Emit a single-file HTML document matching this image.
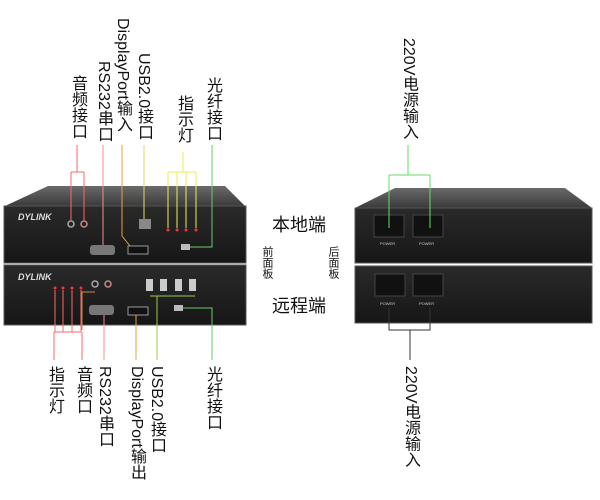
<!DOCTYPE html>
<html><head><meta charset="utf-8"><style>
body{margin:0;width:600px;height:500px;background:#fff;position:relative;overflow:hidden;font-family:"Liberation Sans","Noto Sans CJK SC",sans-serif}
.v{position:absolute;writing-mode:vertical-rl;font-size:16px;line-height:16px;color:#111;white-space:nowrap;font-family:"Liberation Sans","Noto Sans CJK SC",sans-serif}
.t{position:absolute;font-size:18px;color:#111;font-family:"Noto Sans CJK SC",sans-serif}
.s{position:absolute;writing-mode:vertical-rl;font-size:11px;line-height:11px;color:#111;font-family:"Noto Sans CJK SC",sans-serif}
</style></head><body>
<svg width="600" height="500" style="position:absolute;left:0;top:0">
<defs>
<linearGradient id="lid" x1="0" y1="0" x2="0" y2="1"><stop offset="0" stop-color="#6a6a6a"/><stop offset="1" stop-color="#3a3a3a"/></linearGradient>
<linearGradient id="fp" x1="0" y1="0" x2="0" y2="1"><stop offset="0" stop-color="#2a2a2a"/><stop offset="1" stop-color="#161616"/></linearGradient>
</defs>
<!-- left device -->
<polygon points="48,186 225,186 245,206 5,206" fill="url(#lid)"/>
<rect x="4" y="206" width="242" height="57" fill="url(#fp)" stroke="#555" stroke-width="1"/>
<rect x="4" y="265" width="242" height="60" fill="url(#fp)" stroke="#555" stroke-width="1"/>
<text x="18" y="220" fill="#ddd" font-size="9" font-weight="bold" font-style="italic" font-family="Liberation Sans">DYLINK</text>
<text x="18" y="280" fill="#ddd" font-size="9" font-weight="bold" font-style="italic" font-family="Liberation Sans">DYLINK</text>
<circle cx="71" cy="224" r="3" fill="none" stroke="#aaa" stroke-width="1.5"/>
<circle cx="84" cy="224" r="3" fill="none" stroke="#c88" stroke-width="1.5"/>
<rect x="90" y="245" width="25" height="10" rx="3" fill="#777"/>
<rect x="128" y="246" width="20" height="8" fill="#111" stroke="#999"/>
<rect x="139" y="219" width="12" height="10" fill="#888"/>
<rect x="181" y="244" width="9" height="6" fill="#bbb"/>
<circle cx="168" cy="230" r="1.5" fill="#f33"/><circle cx="177" cy="230" r="1.5" fill="#f33"/><circle cx="186" cy="230" r="1.5" fill="#f33"/><circle cx="196" cy="230" r="1.5" fill="#f33"/>
<circle cx="55" cy="288" r="1.5" fill="#f33"/><circle cx="63" cy="288" r="1.5" fill="#f33"/><circle cx="72" cy="288" r="1.5" fill="#f33"/><circle cx="81" cy="288" r="1.5" fill="#f33"/>
<circle cx="95" cy="284" r="3" fill="none" stroke="#aaa" stroke-width="1.5"/>
<circle cx="108" cy="284" r="3" fill="none" stroke="#c88" stroke-width="1.5"/>
<rect x="89" y="305" width="25" height="10" rx="3" fill="#777"/>
<rect x="128" y="307" width="20" height="8" fill="#111" stroke="#999"/>
<rect x="146" y="279" width="7" height="12" fill="#ccc"/><rect x="160" y="279" width="7" height="12" fill="#ccc"/><rect x="175" y="279" width="7" height="12" fill="#ccc"/><rect x="189" y="279" width="7" height="12" fill="#ccc"/>
<rect x="174" y="305" width="9" height="6" fill="#bbb"/>
<!-- right device -->
<polygon points="395,188 565,188 592,208 355,208" fill="url(#lid)"/>
<rect x="355" y="208" width="237" height="55" fill="url(#fp)" stroke="#555"/>
<rect x="355" y="266" width="237" height="57" fill="url(#fp)" stroke="#555"/>
<rect x="374" y="215" width="30" height="22" fill="#111" stroke="#444"/>
<rect x="413" y="215" width="30" height="22" fill="#111" stroke="#444"/>
<rect x="375" y="274" width="30" height="22" fill="#111" stroke="#444"/>
<rect x="413" y="274" width="30" height="22" fill="#111" stroke="#444"/>
<g fill="#ccc" font-size="4" font-family="Liberation Sans"><text x="380" y="245">POWER</text><text x="419" y="245">POWER</text><text x="380" y="305">POWER</text><text x="419" y="305">POWER</text></g>
<!-- connectors -->
<g fill="none" stroke-width="1">
<path d="M77,145V172M71,172H84M71,172V220M84,172V220" stroke="#f66"/>
<path d="M103,145V245" stroke="#f88"/>
<path d="M122,145V236L130,246" stroke="#e9a040"/>
<path d="M144,145V219" stroke="#dd6"/>
<path d="M183,152V172M168,172H196M168,172V228M177,172V228M186,172V228M196,172V228" stroke="#ee5"/>
<path d="M212,145V247H190" stroke="#6c6"/>
<path d="M408,145V175M389,175H430M389,175V228M430,175V228" stroke="#6d6"/>
<path d="M54,360V332M82,360V332M54,332H81M55,290V332M63,290V332M72,290V332M81,290V332" stroke="#f66"/>
<path d="M82,330V292H95" stroke="#c84"/>
<path d="M104,360V315" stroke="#f88"/>
<path d="M136,360V315" stroke="#e9a040"/>
<path d="M157,360V296M150,296H195" stroke="#9c4"/>
<path d="M212,360V308H183" stroke="#6c6"/>
<path d="M389,308V330H410V360M430,308V330H410" stroke="#333"/>
</g>
</svg>
<div class="v" style="left:69px;top:75px">音频接口</div>
<div class="v" style="left:95px;top:61px">RS232串口</div>
<div class="v" style="left:114px;top:18px">DisplayPort输入</div>
<div class="v" style="left:135px;top:53px">USB2.0接口</div>
<div class="v" style="left:175px;top:95px">指示灯</div>
<div class="v" style="left:204px;top:77px">光纤接口</div>
<div class="v" style="left:400px;top:38px">220V电源输入</div>
<div class="v" style="left:46px;top:366px">指示灯</div>
<div class="v" style="left:74px;top:366px">音频口</div>
<div class="v" style="left:96px;top:366px">RS232串口</div>
<div class="v" style="left:128px;top:366px">DisplayPort输出</div>
<div class="v" style="left:148px;top:366px">USB2.0接口</div>
<div class="v" style="left:204px;top:366px">光纤接口</div>
<div class="v" style="left:402px;top:366px">220V电源输入</div>
<div class="t" style="left:272px;top:211px">本地端</div>
<div class="t" style="left:272px;top:292px">远程端</div>
<div class="s" style="left:262px;top:246px">前面板</div>
<div class="s" style="left:328px;top:246px">后面板</div>
</body></html>
